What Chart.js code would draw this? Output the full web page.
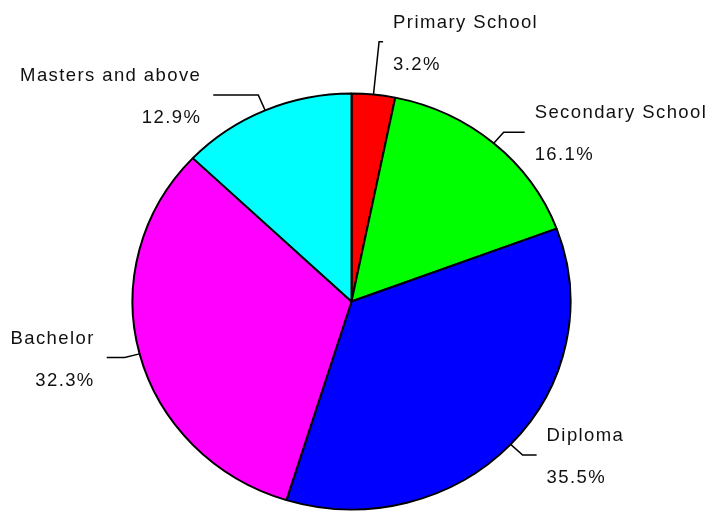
<!DOCTYPE html>
<html>
<head>
<meta charset="utf-8">
<script src="https://cdn.jsdelivr.net/npm/chart.js@4"></script>
<style>
  html, body { margin: 0; padding: 0; background: #fff; }
  #wrap { width: 715px; height: 512px; }
</style>
</head>
<body>
<div id="wrap"><canvas id="chartCanvas" width="715" height="512"></canvas></div>
<script>
const categories = ['Primary School', 'Secondary School', 'Diploma', 'Bachelor', 'Masters and above'];
const shares = [3.2, 16.1, 35.5, 32.3, 12.9];
const sliceColors = ['#ff0000', '#00ff00', '#0000ff', '#ff00ff', '#00ffff'];

// leader line layout: how far out the elbow sits (x radius) and how long the flat part is
const elbowOut = [1.255, 1.07, 1.075, 1.07, 1.08];
const flatLength = [4, 21, 14, 18, 45];

const radiusX = 219;
const radiusY = 208;
const squash = radiusY / radiusX;

// the original pie is a slight ellipse, so squash the arcs vertically while they draw
const ellipsePlugin = {
    id: 'ellipse',
    beforeDatasetsDraw(chart) {
        const arc = chart.getDatasetMeta(0).data[0];
        const ctx = chart.ctx;
        ctx.save();
        ctx.translate(arc.x, arc.y);
        ctx.scale(1, squash);
        ctx.translate(-arc.x, -arc.y);
    },
    afterDatasetsDraw(chart) {
        chart.ctx.restore();
    }
};

const sliceLabels = {
    id: 'sliceLabels',
    afterDraw(chart) {
        const ctx = chart.ctx;
        const values = chart.data.datasets[0].data;
        const total = values.reduce((a, b) => a + b, 0);
        chart.getDatasetMeta(0).data.forEach((arc, i) => {
            const mid = (arc.startAngle + arc.endAngle) / 2;
            const cos = Math.cos(mid);
            const sin = Math.sin(mid);
            const r = arc.outerRadius;
            const edgeX = arc.x + r * cos;
            const edgeY = arc.y + r * squash * sin;
            const elbowX = arc.x + r * elbowOut[i] * cos;
            const elbowY = arc.y + r * squash * elbowOut[i] * sin;
            const right = cos >= 0;
            const endX = elbowX + (right ? flatLength[i] : -flatLength[i]);

            ctx.save();
            ctx.strokeStyle = '#000';
            ctx.lineWidth = 1.5;
            ctx.beginPath();
            ctx.moveTo(edgeX, edgeY);
            ctx.lineTo(elbowX, elbowY);
            ctx.lineTo(endX, elbowY);
            ctx.stroke();

            ctx.fillStyle = '#111';
            ctx.font = '18.5px "Liberation Sans", Arial, sans-serif';
            ctx.letterSpacing = '1.4px';
            ctx.textBaseline = 'alphabetic';
            ctx.textAlign = right ? 'left' : 'right';
            const textX = right ? endX + 10 : endX - 12;
            const pct = (values[i] / total * 100).toFixed(1) + '%';
            ctx.fillText(chart.data.labels[i], textX, elbowY - 14);
            ctx.fillText(pct, textX, elbowY + 28);
            ctx.restore();
        });
    }
};

const ctx = document.getElementById('chartCanvas').getContext('2d');
const chart = new Chart(ctx, {
    type: 'pie',
    data: {
        labels: categories,
        datasets: [{
            data: shares,
            backgroundColor: sliceColors,
            borderColor: '#000',
            borderWidth: 2,
            radius: radiusX,
            clip: false
        }]
    },
    options: {
        responsive: false,
        animation: false,
        layout: {
            padding: { left: 0, right: 12, top: 91, bottom: 0 }
        },
        plugins: {
            legend: { display: false },
            tooltip: { enabled: false }
        }
    },
    plugins: [ellipsePlugin, sliceLabels]
});
</script>
</body>
</html>
